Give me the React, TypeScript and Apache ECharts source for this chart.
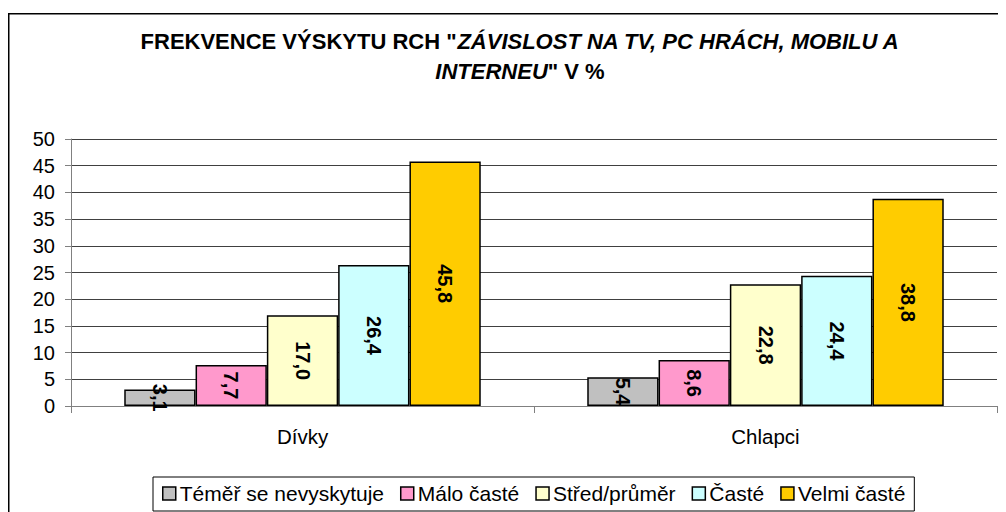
import React, { useEffect, useRef } from "react";
import * as echarts from "echarts";

const categories = ["Dívky", "Chlapci"];
const seriesNames = ["Téměř se nevyskytuje", "Málo časté", "Střed/průměr", "Časté", "Velmi časté"];
const seriesColors = ["#C0C0C0", "#FF99CC", "#FFFFCC", "#CCFFFF", "#FFCC00"];
const values = [
  [3.1, 5.4],
  [7.7, 8.6],
  [17.0, 22.8],
  [26.4, 24.4],
  [45.8, 38.8],
];
const yMin = 0;
const yMax = 50;
const yInterval = 5;

const FONT = "'Liberation Sans', Arial, sans-serif";

export default function App() {
  const ref = useRef<HTMLDivElement>(null);
  useEffect(() => {
    if (!ref.current) return;
    const chart = echarts.init(ref.current, null, { renderer: "svg" });
    chart.setOption({
      animation: false,
      backgroundColor: "#ffffff",
      textStyle: { fontFamily: FONT },
      graphic: [
        {
          type: "rect",
          shape: { x: 0.75, y: 5.75, width: 1200, height: 700 },
          style: { fill: "none", stroke: "#000", lineWidth: 1.5 },
          silent: true,
        },
        {
          type: "text",
          x: 512,
          y: 48,
          style: {
            text: '{n|FREKVENCE VÝSKYTU RCH "}{i|ZÁVISLOST NA TV, PC HRÁCH, MOBILU A}\n{i|INTERNEU}{n|" V %}',
            align: "center",
            verticalAlign: "middle",
            fill: "#000",
            rich: {
              n: { fontFamily: FONT, fontSize: 22, fontWeight: "bold", fill: "#000", lineHeight: 30 },
              i: { fontFamily: FONT, fontSize: 22, fontWeight: "bold", fontStyle: "italic", fill: "#000", lineHeight: 30 },
            },
          },
        },
      ],
      legend: {
        data: seriesNames,
        left: 145,
        top: 469,
        padding: [6, 9, 7, 9],
        borderColor: "#000",
        borderWidth: 1,
        itemWidth: 13,
        itemHeight: 13,
        itemGap: 16,
        icon: "rect",
        itemStyle: { borderColor: "#000", borderWidth: 1.5 },
        textStyle: { fontFamily: FONT, fontSize: 21, color: "#000", padding: [0, 0, 0, -1] },
      },
      grid: { left: 63, right: 9, top: 131, bottom: 106, containLabel: false },
      xAxis: {
        type: "category",
        data: categories,
        axisLine: { lineStyle: { color: "#808080", width: 1 } },
        axisTick: { show: true, length: 7, lineStyle: { color: "#808080" } },
        axisLabel: { fontFamily: FONT, fontSize: 20.5, color: "#000", margin: 20 },
        splitLine: { show: false },
      },
      yAxis: {
        type: "value",
        min: yMin,
        max: yMax,
        interval: yInterval,
        axisLine: { show: true, lineStyle: { color: "#808080", width: 1 } },
        axisTick: { show: true, length: 6, lineStyle: { color: "#808080" } },
        axisLabel: { fontFamily: FONT, fontSize: 20, color: "#000", margin: 16 },
        splitLine: { show: true, lineStyle: { color: "#404040", width: 1 } },
      },
      series: seriesNames.map((name, i) => ({
        name,
        type: "bar",
        data: values[i],
        barGap: "0%",
        barCategoryGap: "23%",
        itemStyle: { color: seriesColors[i], borderColor: "#000", borderWidth: 1.5 },
        label: {
          show: true,
          position: "inside",
          rotate: -90,
          fontFamily: FONT,
          fontSize: 20,
          fontWeight: "bold",
          color: "#000",
          formatter: (p: any) => Number(p.value).toFixed(1).replace(".", ","),
        },
      })),
    });
    return () => chart.dispose();
  }, []);
  return <div ref={ref} style={{ width: 998, height: 504 }} />;
}
